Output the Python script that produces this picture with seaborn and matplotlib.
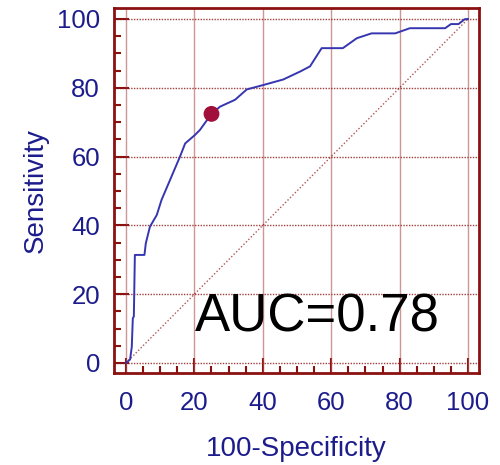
import pandas as pd
import matplotlib
matplotlib.use("Agg")
import matplotlib.pyplot as plt
import seaborn as sns
from matplotlib.ticker import MultipleLocator

# ROC curve
fpr = [0, 1.2, 1.7, 2.0, 2.3, 2.6, 5.4, 5.8, 7.0, 9.0, 10.4, 15.8, 17.3, 20.2, 21.6, 25.0,
       27.5, 31.9, 35.3, 40.2, 46.0, 50.9, 53.8, 57.2, 63.4, 67.5, 71.8, 78.7, 83.0, 93.3,
       95.0, 97.2, 99.0, 100]
tpr = [0, 1.0, 4.7, 13.0, 13.5, 31.4, 31.4, 34.8, 39.6, 43.0, 47.4, 60.0, 63.8, 66.3, 67.7, 72.4,
       74.5, 76.5, 79.5, 80.8, 82.4, 84.7, 86.2, 91.5, 91.5, 94.4, 95.8, 95.8, 97.3, 97.3,
       98.5, 98.5, 99.9, 100]
cut_x = [25.0]
cut_y = [72.4]
auc_text = "AUC=0.78"

roc = pd.DataFrame({"fpr": fpr, "tpr": tpr})
cut = pd.DataFrame({"fpr": cut_x, "tpr": cut_y})

sns.set_style("white")
plt.rcParams["font.family"] = ["Liberation Sans", "DejaVu Sans"]

frame_col = "#8b1010"
grid_col = "#b05050"
label_col = "#1c1c8c"

fig = plt.figure(figsize=(5, 4.65), dpi=100)
ax = fig.add_axes([0.228, 0.198, 0.730, 0.785])

# grid: vertical solid, horizontal dotted
for v in range(0, 101, 20):
    ax.axvline(v, color=grid_col, lw=1.0, alpha=0.6, zorder=1)
    ax.axhline(v, color=frame_col, lw=1.0, ls=(0, (1, 1)), alpha=0.8, zorder=1)
ax.plot([0, 100], [0, 100], color=frame_col, lw=1.0, ls=(0, (1, 1.5)), alpha=0.7, zorder=1)

sns.lineplot(data=roc, x="fpr", y="tpr", color="#3636b0", lw=1.4, sort=False,
             estimator=None, ax=ax, zorder=3)
sns.scatterplot(data=cut, x="fpr", y="tpr", color="#a0103a", s=130, edgecolor="none",
                ax=ax, zorder=4)

ax.text(20.2, 9, auc_text, fontsize=38, color="black", ha="left", va="baseline", zorder=5)

ax.set_xlim(-3.5, 103.2)
ax.set_ylim(-2.9, 103.2)
ax.xaxis.set_major_locator(MultipleLocator(20))
ax.yaxis.set_major_locator(MultipleLocator(20))
ax.xaxis.set_minor_locator(MultipleLocator(5))
ax.yaxis.set_minor_locator(MultipleLocator(5))
ax.tick_params(which="major", direction="in", length=11, width=1.5, color=frame_col,
               labelsize=18.5, labelcolor=label_col)
ax.tick_params(axis="x", which="major", pad=13)
ax.tick_params(axis="y", which="major", pad=10)
ax.tick_params(which="minor", direction="in", length=5, width=1.5, color=frame_col)
ax.tick_params(axis="both", which="both", bottom=True, left=True, top=False, right=False)
for s in ax.spines.values():
    s.set_color(frame_col)
    s.set_linewidth(2)

ax.set_xlabel("100-Specificity", fontsize=20, color=label_col, labelpad=15)
ax.set_ylabel("Sensitivity", fontsize=20, color=label_col, labelpad=6)

fig.savefig("out.png", dpi=100)
